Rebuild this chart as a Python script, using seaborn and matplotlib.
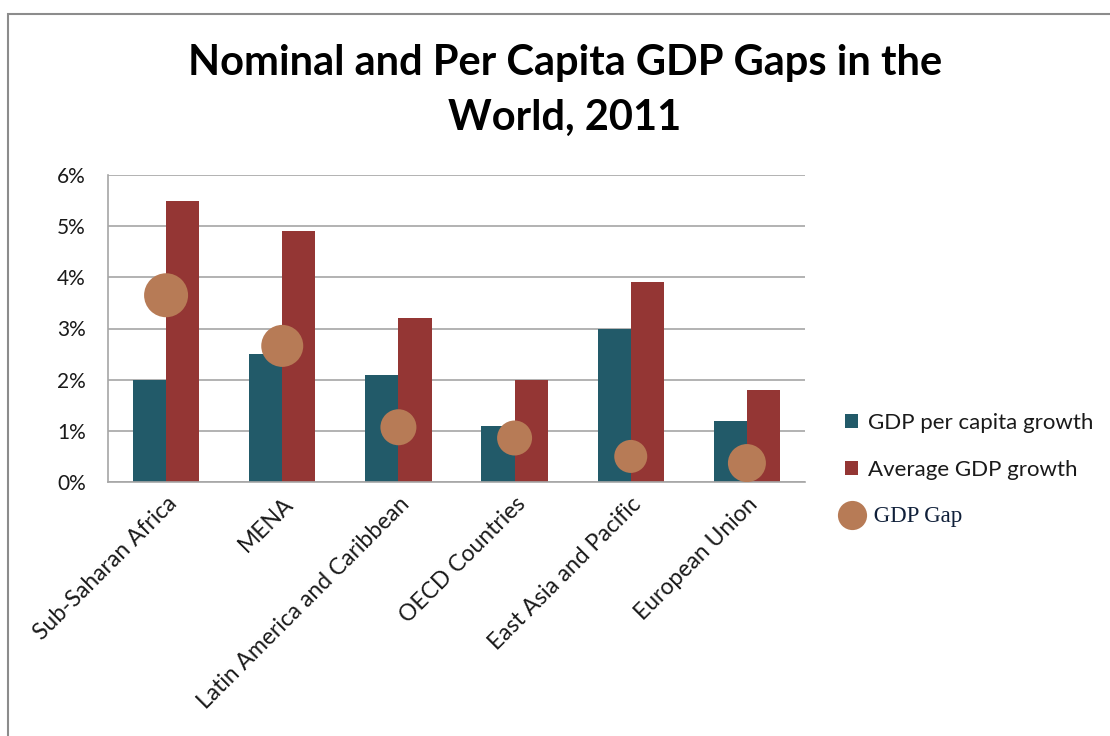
import numpy as np
import pandas as pd
import matplotlib
matplotlib.use("Agg")
import matplotlib.pyplot as plt
from matplotlib.patches import Patch, Rectangle
from matplotlib.lines import Line2D
from matplotlib.ticker import FuncFormatter
import seaborn as sns

# Regions and growth figures (percent)
regions = ["Sub-Saharan Africa", "MENA", "Latin America and Caribbean",
           "OECD Countries", "East Asia and Pacific", "European Union"]
per_capita_growth = [2.0, 2.5, 2.1, 1.1, 3.0, 1.2]
average_gdp_growth = [5.5, 4.9, 3.2, 2.0, 3.9, 1.8]
gdp_gap = [3.65, 2.66, 1.07, 0.86, 0.50, 0.37]
gap_bubble_size = [44, 42, 36, 35, 33, 38]

series_names = ["GDP per capita growth", "Average GDP growth"]
yticks = [0, 1, 2, 3, 4, 5, 6]

TEAL = "#225A69"
RED = "#943634"
BUBBLE = "#B77B56"
GRID = "#A6A6A6"
TEXT = "#1A1A1A"

sns.set_theme(style="white")
plt.rcParams["font.family"] = ["Lato", "DejaVu Sans"]

df = pd.DataFrame({
    "region": regions * 2,
    "series": [series_names[0]] * len(regions) + [series_names[1]] * len(regions),
    "value": per_capita_growth + average_gdp_growth,
})

fig = plt.figure(figsize=(11.10, 7.36), dpi=100)
ax = fig.add_axes([108 / 1110, 1 - 482 / 736, 697 / 1110, 307 / 736])

sns.barplot(data=df, x="region", y="value", hue="series", order=regions,
            hue_order=series_names, palette=[TEAL, RED], saturation=1,
            width=0.57, gap=0, ax=ax, legend=False, zorder=2,
            edgecolor="none", linewidth=0)

# GDP gap bubbles, area scaled from the bubble size figures
areas = [(d * 0.72) ** 2 for d in gap_bubble_size]
ax.scatter(np.arange(len(regions)), gdp_gap, s=areas, color=BUBBLE,
           edgecolor="none", zorder=3)

ax.set_ylim(0, 6)
ax.set_xlim(-0.5, len(regions) - 0.5)
ax.set_yticks(yticks)
ax.yaxis.set_major_formatter(FuncFormatter(lambda v, _: f"{v:.0f}%"))
ax.grid(axis="y", color=GRID, linewidth=1.2, zorder=0)
ax.set_axisbelow(True)
ax.set_xlabel("")
ax.set_ylabel("")
for side in ("top", "right"):
    ax.spines[side].set_visible(False)
for side in ("left", "bottom"):
    ax.spines[side].set_color(GRID)
    ax.spines[side].set_linewidth(1.2)
ax.tick_params(axis="y", labelsize=15, pad=16, length=0, labelcolor=TEXT)
ax.tick_params(axis="x", labelsize=16.5, length=0, pad=8, labelcolor=TEXT)
ax.set_xticks(np.arange(len(regions)))
ax.set_xticklabels(regions, rotation=45, ha="right", rotation_mode="anchor")

fig.suptitle("Nominal and Per Capita GDP Gaps in the\nWorld, 2011",
             x=565 / 1110, y=1 - 44 / 736, fontsize=30, fontweight="bold",
             linespacing=1.55, va="top", color="black")

handles = [
    Patch(facecolor=TEAL, edgecolor="none"),
    Patch(facecolor=RED, edgecolor="none"),
    Line2D([], [], marker="o", linestyle="none", markersize=21,
           markerfacecolor=BUBBLE, markeredgecolor="none"),
]
leg = fig.legend(handles, series_names + [" GDP Gap"], loc="upper left",
                 bbox_to_anchor=(825 / 1110, 1 - 393 / 736), frameon=False,
                 fontsize=16, handlelength=0.6, handleheight=0.6,
                 handletextpad=0.45, labelspacing=1.2)
for t in leg.get_texts()[:2]:
    t.set_color(TEXT)
gap_text = leg.get_texts()[2]
gap_text.set_fontfamily(["Liberation Serif", "DejaVu Serif"])
gap_text.set_fontsize(16.5)
gap_text.set_color("#10203A")

# Chart area frame
fig.patches.append(Rectangle((8 / 1110, -0.05), 1.2, 1 - 14 / 736 + 0.05,
                             transform=fig.transFigure, fill=False,
                             edgecolor="#8C8C8C", linewidth=1.5))

fig.savefig("out.png", dpi=100)
